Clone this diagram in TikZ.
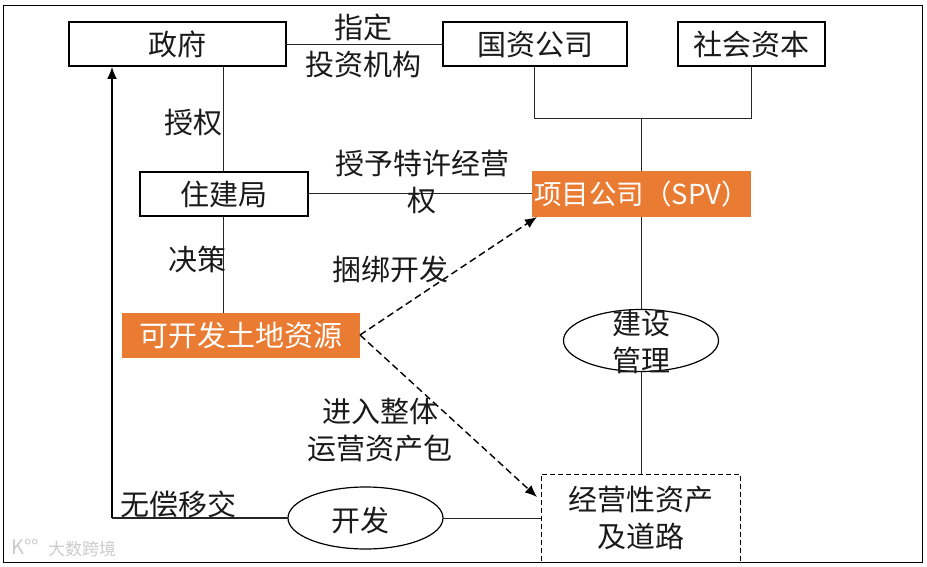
\documentclass[tikz,border=0pt]{standalone}
\usepackage{fontspec}
\setmainfont{Noto Sans CJK SC}
\usetikzlibrary{shapes.geometric,arrows.meta}
\definecolor{orangebox}{HTML}{E97B33}
\definecolor{txt}{HTML}{1A1A1A}
\tikzset{
  every node/.style={font=\fontsize{29}{36.5}\selectfont,text=txt,inner sep=0pt,outer sep=0pt},
  wbox/.style={draw=black,line width=2pt,fill=white,minimum width=#1,minimum height=44pt},
  obox/.style={fill=orangebox,text=white,minimum width=#1,minimum height=45pt},
  oval/.style={ellipse,draw=black,line width=1.2pt,fill=white,minimum width=155pt,minimum height=62pt},
  dbox/.style={draw=black,line width=1pt,dash pattern=on 5pt off 3pt,fill=white,minimum width=199pt,minimum height=88pt,align=center},
  lbl/.style={align=center},
  conn/.style={draw=black!85,line width=1pt},
  dconn/.style={draw=black,line width=1.4pt,dash pattern=on 7pt off 4pt,-{Latex[length=12pt,width=10pt]}},
}
\begin{document}
\begin{tikzpicture}[x=1pt,y=-1pt]
\useasboundingbox (0,0) rectangle (927,567);
\fill[white] (0,0) rectangle (927,567);
\draw[black,line width=0.9pt] (3,5) rectangle (922,562);
% connectors' anchors
\coordinate (jn) at (641,119);
\coordinate (jl) at (534,119);
\coordinate (jr) at (751,119);
\coordinate (cornerA) at (112,518);
\coordinate (gtop) at (112,67);
\coordinate (gov223) at (223,67);
\coordinate (land223) at (223,313);
\coordinate (spvT) at (641,171);
\coordinate (spvB) at (641,217);
\coordinate (estT) at (641,309);
\coordinate (estB) at (641,372);
\coordinate (assetT) at (641,474);
\coordinate (gzB) at (534,67);
\coordinate (shB) at (751,67);
\coordinate (spvIn) at (537,217);
\coordinate (assetIn) at (537,497);
\coordinate (landR) at (360,335);
% lines drawn first
\draw[conn] (gzB) -- (jl) -- (jr) -- (shB);
\draw[conn] (jn) -- (spvT);
\draw[conn] (spvB) -- (estT);
\draw[conn] (estB) -- (assetT);
\draw[conn] (gov223) -- (land223);
% nodes
\node[wbox=217pt] (gov) at (177.5,44.5) {政府};
\node[wbox=184pt] (gz) at (535,44.5) {国资公司};
\node[wbox=147pt] (sh) at (751.5,44.5) {社会资本};
\node[wbox=168pt] (zj) at (224,194) {住建局};
\node[obox=219pt,font=\fontsize{27.5}{36}\selectfont] (spv) at (641.5,194) {项目公司（SPV）};
\node[obox=238pt] (land) at (241,335.5) {可开发土地资源};
\node[oval] (build) at (641,340.5) {};
\node[lbl] at (641,342) {建设\\管理};
\node[oval] (dev) at (365.5,518) {};
\node at (360,520) {开发};
\node[dbox] (asset) at (640.5,518) {经营性资产\\及道路};
\draw[conn] (gov) -- (gz);
\draw[conn] (zj) -- (spv);
\draw[conn] (dev) -- (asset);
\draw[conn,line width=1.3pt] (dev.west) -- (cornerA);
\draw[draw=black,line width=1.3pt,-{Latex[length=12pt,width=10pt]}] (cornerA) -- (gtop);
\draw[dconn] (landR) -- (spvIn);
\draw[dconn] (landR) -- (assetIn);
% labels
\node[lbl] at (363,46) {指定\\投资机构};
\node at (193,123) {授权};
\node[lbl] at (422,182) {授予特许经营\\权};
\node at (197,259) {决策};
\node at (390,269) {捆绑开发};
\node[lbl] at (380,430) {进入整体\\运营资产包};
\node at (178,504) {无偿移交};
\node[font=\fontsize{17}{18}\selectfont,text=black!20] at (82,549) {大数跨境};
\node[font=\fontsize{20}{20}\selectfont,text=black!20] at (25,547) {K°°};
\end{tikzpicture}
\end{document}
